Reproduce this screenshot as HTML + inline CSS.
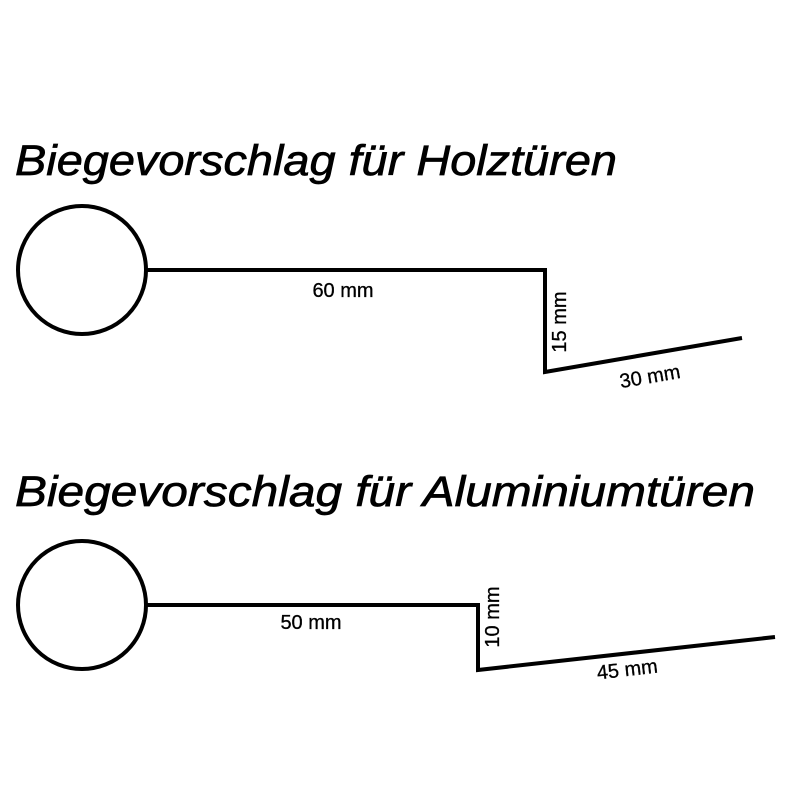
<!DOCTYPE html>
<html><head><style>html,body{margin:0;padding:0;background:#fff}</style></head>
<body>
<svg width="800" height="800" viewBox="0 0 800 800" xmlns="http://www.w3.org/2000/svg">
<g font-family="Liberation Sans, sans-serif" fill="#000" stroke="#000" stroke-width="0.7">
<text x="15" y="175" font-size="43" font-style="italic" textLength="602" lengthAdjust="spacingAndGlyphs">Biegevorschlag für Holztüren</text>
<text x="15" y="506" font-size="43" font-style="italic" textLength="740" lengthAdjust="spacingAndGlyphs">Biegevorschlag für Aluminiumtüren</text>
</g>
<g fill="none" stroke="#000" stroke-width="4">
<circle cx="82" cy="270" r="64"/>
<polyline points="146,270 545,270 545,372 742,338" stroke-linejoin="miter"/>
<circle cx="82" cy="605" r="64"/>
<polyline points="146,605 478,605 478,670 775,637" stroke-linejoin="miter"/>
</g>
<g font-family="Liberation Sans, sans-serif" font-size="20" fill="#000" stroke="#000" stroke-width="0.3" text-anchor="middle">
<text x="343" y="297">60 mm</text>
<text transform="translate(566,322) rotate(-90)">15 mm</text>
<text transform="translate(651,383) rotate(-9.7)">30 mm</text>
<text x="311" y="629">50 mm</text>
<text transform="translate(499,617) rotate(-90)">10 mm</text>
<text transform="translate(628,676) rotate(-6.5)">45 mm</text>
</g>
</svg>
</body></html>
